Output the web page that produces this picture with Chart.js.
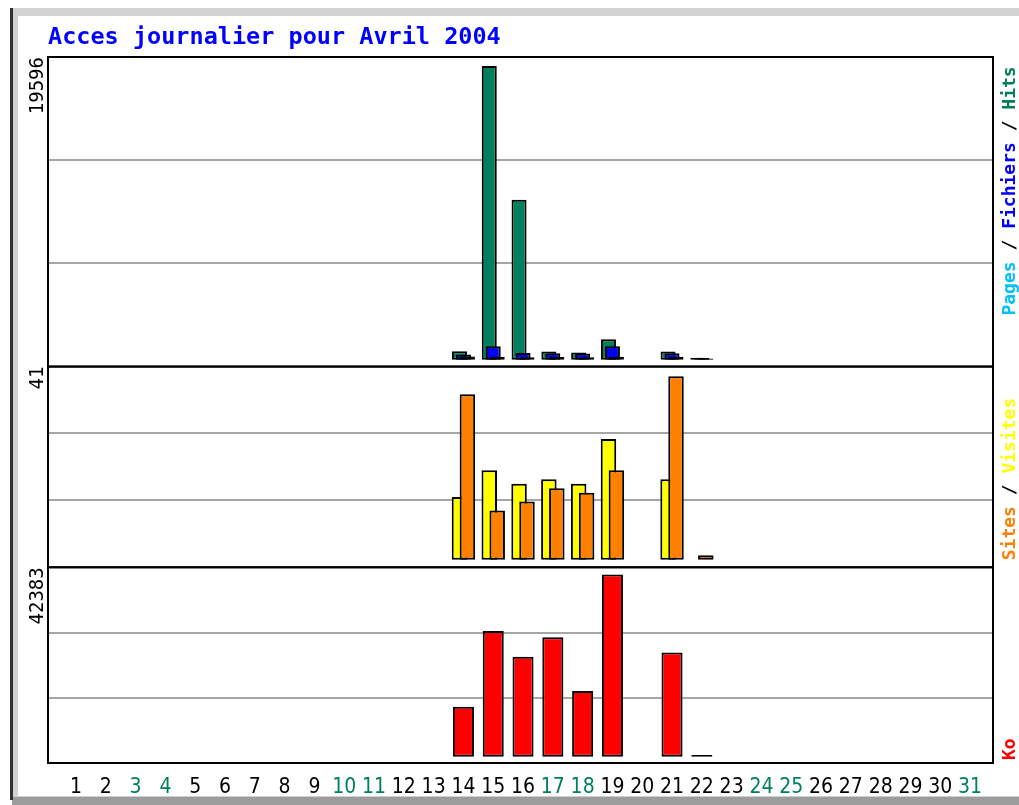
<!DOCTYPE html>
<html>
<head>
<meta charset="utf-8">
<title>Acces journalier pour Avril 2004</title>
<script src="https://cdn.jsdelivr.net/npm/chart.js@4.4.1/dist/chart.umd.min.js"></script>
<style>
  body { margin: 0; background: #fff; }
  #wrap { position: relative; width: 1019px; height: 805px; overflow: hidden; background: #fff; }
  #dailyChart { position: absolute; left: 0; top: 0; }
  .edge { position: absolute; pointer-events: none; }
  #edgeDark { left: 10px; top: 8px; width: 3px; height: 792px; background: #333; }
  #edgeLeft { left: 13px; top: 8px; width: 5px; height: 788px; background: #d2d2d2; }
  #edgeTop { left: 13px; top: 8px; right: 0; height: 8px; background: #d2d2d2; }
  #edgeBottom { left: 12px; top: 796px; right: 0; height: 9px; background: #9c9c9c; border-top: 1px solid #cfcfcf; }
</style>
</head>
<body>
<div id="wrap">
  <canvas id="dailyChart" width="1019" height="805"></canvas>
  <div class="edge" id="edgeLeft"></div>
  <div class="edge" id="edgeTop"></div>
  <div class="edge" id="edgeBottom"></div>
  <div class="edge" id="edgeDark"></div>
</div>
<script>
// days of the month and the weekend days drawn in green
const days = [1, 2, 3, 4, 5, 6, 7, 8, 9, 10, 11, 12, 13, 14, 15, 16, 17, 18, 19, 20, 21, 22, 23, 24, 25, 26, 27, 28, 29, 30, 31];
const weekendDays = [3, 4, 10, 11, 17, 18, 24, 25, 31];

// series values, one per day
const hits   = [0, 0, 0, 0, 0, 0, 0, 0, 0, 0, 0, 0, 0, 575, 19596, 10680, 550, 490, 1370, 0, 550, 140, 0, 0, 0, 0, 0, 0, 0, 0, 0];
const files  = [0, 0, 0, 0, 0, 0, 0, 0, 0, 0, 0, 0, 0, 355, 905, 465, 440, 420, 905, 0, 440, 120, 0, 0, 0, 0, 0, 0, 0, 0, 0];
const pages  = [0, 0, 0, 0, 0, 0, 0, 0, 0, 0, 0, 0, 0, 230, 200, 180, 190, 170, 210, 0, 190, 90, 0, 0, 0, 0, 0, 0, 0, 0, 0];
const visits = [0, 0, 0, 0, 0, 0, 0, 0, 0, 0, 0, 0, 0, 14, 20, 17, 18, 17, 27, 0, 18, 0, 0, 0, 0, 0, 0, 0, 0, 0, 0];
const sites  = [0, 0, 0, 0, 0, 0, 0, 0, 0, 0, 0, 0, 0, 37, 11, 13, 16, 15, 20, 0, 41, 1, 0, 0, 0, 0, 0, 0, 0, 0, 0];
const ko     = [0, 0, 0, 0, 0, 0, 0, 0, 0, 0, 0, 0, 0, 11620, 29280, 23240, 27810, 15270, 42383, 0, 24260, 400, 0, 0, 0, 0, 0, 0, 0, 0, 0];

// panel geometry (pixels): height, gap under the bars, gap over the tallest bar
const panels = [
  { id: 'yHits', height: 310, base: 6.7, top: 9, legendGap: 51, layer: 3 },
  { id: 'yVisits', height: 201, base: 7.5, top: 9.7, legendGap: 7, layer: 2 },
  { id: 'yKo', height: 196, base: 6.3, top: 7.3, legendGap: 3, layer: 1 }
];

const monoFont = '"DejaVu Sans Mono", "Liberation Mono", monospace';

function panelMax(id) {
  const values = chartData.datasets.filter(d => d.yAxisID === id).flatMap(d => d.data);
  return Math.max(...values);
}

function panelScale(p) {
  const top = panelMax(p.id);
  const unit = top / (p.height - p.base - p.top);
  const min = -p.base * unit;
  const max = top + p.top * unit;
  return {
    type: 'linear',
    position: 'left',
    stack: 'panels',
    stackWeight: p.height,
    weight: p.layer,
    stacked: false,
    min: min,
    max: max,
    afterBuildTicks: s => { s.ticks = [0, 1, 2, 3].map(k => ({ value: min + (max - min) * k / 3 })); },
    afterFit: s => { s.width = 48; },
    ticks: { display: false },
    grid: {
      drawTicks: false,
      lineWidth: 2,
      color: c => (c.index === 1 || c.index === 2) ? '#a6a6a6' : 'rgba(0,0,0,0)'
    },
    border: { display: false },
    title: {
      display: true,
      text: String(top),
      align: 'end',
      color: '#000',
      font: { family: monoFont, size: 19 },
      padding: { top: 26.6, bottom: 0 }
    }
  };
}

const bar = { borderColor: '#000', borderWidth: 2, borderSkipped: false, categoryPercentage: 0.4 };

const chartData = {
  labels: days,
  datasets: [
    Object.assign({ label: 'Hits', data: hits, yAxisID: 'yHits', stack: 'left', backgroundColor: '#00805c', barPercentage: 3.78 }, bar),
    Object.assign({ label: 'Fichiers', data: files, yAxisID: 'yHits', stack: 'mid', backgroundColor: '#0000ff', barPercentage: 3.78 }, bar),
    Object.assign({ label: 'Pages', data: pages, yAxisID: 'yHits', stack: 'right', backgroundColor: '#00c0ff', barPercentage: 3.78 }, bar),
    Object.assign({ label: 'Visites', data: visits, yAxisID: 'yVisits', stack: 'left', backgroundColor: '#ffff00', barPercentage: 3.9 }, bar),
    Object.assign({ label: 'Sites', data: sites, yAxisID: 'yVisits', stack: 'right', backgroundColor: '#ff8000', barPercentage: 3.9 }, bar),
    Object.assign({ label: 'Ko', data: ko, yAxisID: 'yKo', stack: 'mid', backgroundColor: '#ff0000', barPercentage: 5.3 }, bar)
  ]
};

// later series are painted over earlier ones, as in the original graph
const paintInOrder = {
  id: 'paintInOrder',
  beforeDatasetsDraw(chart) {
    chart.data.datasets.forEach((d, i) => {
      const meta = chart.getDatasetMeta(i);
      if (!meta.hidden) meta.controller.draw();
    });
    return false;
  }
};

// panel frames and the coloured legends on the right
const framesAndLegends = {
  id: 'framesAndLegends',
  afterDraw(chart) {
    const ctx = chart.ctx;
    const area = chart.chartArea;
    ctx.save();
    ctx.strokeStyle = '#000';
    ctx.lineWidth = 2;
    panels.forEach(p => {
      const s = chart.scales[p.id];
      ctx.strokeRect(area.left, s.top, area.right - area.left, s.bottom - s.top);
    });

    ctx.font = 'bold 18px ' + monoFont;
    ctx.textBaseline = 'alphabetic';
    ctx.textAlign = 'left';
    panels.forEach(p => {
      const s = chart.scales[p.id];
      const parts = chart.data.datasets.filter(d => d.yAxisID === p.id).reverse();
      ctx.save();
      ctx.translate(1015, s.bottom - p.legendGap);
      ctx.rotate(-Math.PI / 2);
      let x = 0;
      parts.forEach((d, i) => {
        if (i > 0) {
          ctx.fillStyle = '#000';
          ctx.fillText(' / ', x, 0);
          x += ctx.measureText(' / ').width;
        }
        ctx.fillStyle = d.backgroundColor;
        ctx.fillText(d.label, x, 0);
        x += ctx.measureText(d.label).width;
      });
      ctx.restore();
    });
    ctx.restore();
  }
};

const scales = {
  x: {
    type: 'linear',
    position: 'bottom',
    offset: false,
    min: days[0] - 0.94,
    max: days[days.length - 1] + 0.77,
    afterBuildTicks: s => { s.ticks = days.map(d => ({ value: d })); },
    afterFit: s => { s.height = 42; },
    grid: { display: false, offset: false },
    border: { display: false },
    ticks: {
      autoSkip: false,
      maxRotation: 0,
      padding: 4,
      callback: v => String(v),
      color: c => weekendDays.includes(days[c.index]) ? '#00805c' : '#000',
      font: { family: '"Liberation Sans Narrow", "DejaVu Sans Condensed", "Liberation Sans", sans-serif', size: 21 }
    }
  }
};
panels.slice().reverse().forEach(p => { scales[p.id] = panelScale(p); });

new Chart(document.getElementById('dailyChart'), {
  type: 'bar',
  data: chartData,
  options: {
    responsive: false,
    animation: false,
    events: [],
    layout: { padding: { left: 0, right: 26, top: 0, bottom: 0 } },
    scales: scales,
    plugins: {
      legend: { display: false },
      tooltip: { enabled: false },
      title: {
        display: true,
        text: 'Acces journalier pour Avril 2004',
        align: 'start',
        fullSize: false,
        color: '#0000ff',
        font: { family: monoFont, size: 23.5, weight: 'bold' },
        padding: { top: 24, bottom: 4.8 }
      }
    }
  },
  plugins: [paintInOrder, framesAndLegends]
});
</script>
</body>
</html>
